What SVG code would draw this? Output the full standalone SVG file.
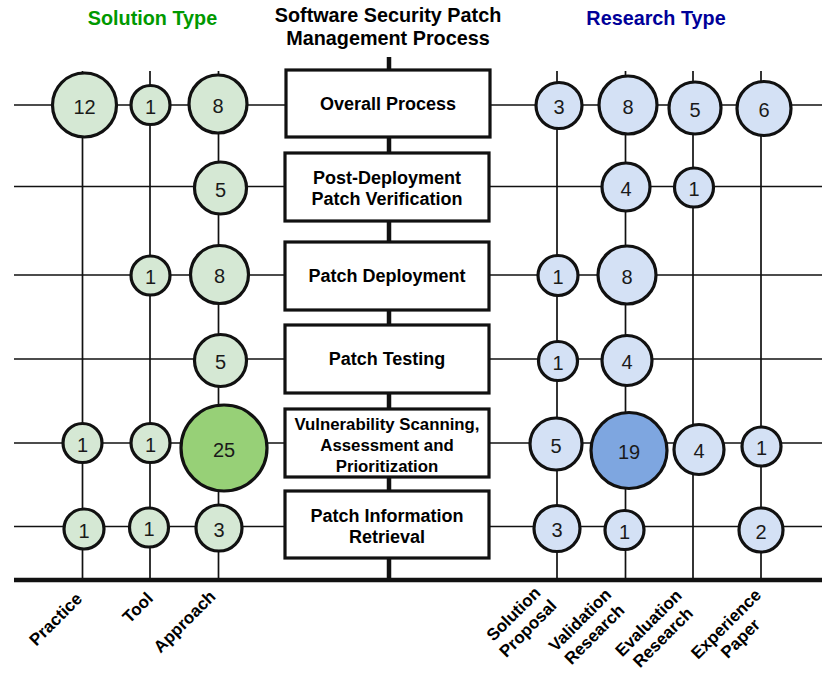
<svg xmlns="http://www.w3.org/2000/svg" width="822" height="676" viewBox="0 0 822 676">
<style>
  .grid{stroke:#111;stroke-width:1.7;fill:none}
  .thick{stroke:#111;stroke-width:4.5;fill:none}
  .box{fill:#fff;stroke:#111;stroke-width:3.2}
  .bl{font-family:"Liberation Sans",Arial,sans-serif;font-weight:bold;font-size:18px;fill:#000;text-anchor:middle}
  .bl2{font-family:"Liberation Sans",Arial,sans-serif;font-weight:bold;font-size:16.8px;fill:#000;text-anchor:middle}
  .g{fill:#d5e8d4;stroke:#111;stroke-width:3.2}
  .gd{fill:#97d077;stroke:#111;stroke-width:3.2}
  .b{fill:#d4e1f5;stroke:#111;stroke-width:3.2}
  .bd{fill:#7ea6e0;stroke:#111;stroke-width:3.2}
  .n{font-family:"Liberation Sans",Arial,sans-serif;font-size:20px;fill:#1a1a1a;text-anchor:middle}
  .title{font-family:"Liberation Sans",Arial,sans-serif;font-weight:bold;font-size:19.8px;text-anchor:middle}
  .lab{font-family:"Liberation Sans",Arial,sans-serif;font-weight:bold;font-size:17px;fill:#000;text-anchor:middle}
</style>

<g id="titles">
  <text class="title" x="152.5" y="25" fill="#009900">Solution Type</text>
  <text class="title" x="388" y="22" fill="#000">Software Security Patch</text>
  <text class="title" x="388" y="44.5" fill="#000">Management Process</text>
  <text class="title" x="656" y="25" fill="#000099">Research Type</text>
</g>

<g id="connectors">
  <line class="grid" x1="14" y1="105" x2="822" y2="105"/>
  <line class="grid" x1="14" y1="186.5" x2="822" y2="186.5"/>
  <line class="grid" x1="14" y1="275" x2="822" y2="275"/>
  <line class="grid" x1="14" y1="359" x2="822" y2="359"/>
  <line class="grid" x1="14" y1="443" x2="822" y2="443"/>
  <line class="grid" x1="14" y1="526.5" x2="822" y2="526.5"/>
  <line class="grid" x1="82.5" y1="71" x2="82.5" y2="578"/>
  <line class="grid" x1="150" y1="71" x2="150" y2="578"/>
  <line class="grid" x1="218.5" y1="71" x2="218.5" y2="578"/>
  <line class="grid" x1="557" y1="71" x2="557" y2="578"/>
  <line class="grid" x1="625.5" y1="71" x2="625.5" y2="578"/>
  <line class="grid" x1="693" y1="71" x2="693" y2="578"/>
  <line class="grid" x1="761" y1="71" x2="761" y2="578"/>
  <line class="thick" x1="389" y1="57" x2="389" y2="578"/>
  <line class="thick" x1="14" y1="580" x2="822" y2="580"/>
</g>

<g id="box-overall"><rect class="box" x="286" y="70" width="204" height="67"/><text class="bl" x="388" y="110">Overall Process</text></g>
<g id="box-post"><rect class="box" x="285" y="153" width="204" height="68"/><text class="bl" x="387" y="184">Post-Deployment</text><text class="bl" x="387" y="205">Patch Verification</text></g>
<g id="box-deploy"><rect class="box" x="285" y="242" width="204" height="68"/><text class="bl" x="387" y="282">Patch Deployment</text></g>
<g id="box-testing"><rect class="box" x="285" y="325" width="204" height="68"/><text class="bl" x="387" y="365">Patch Testing</text></g>
<g id="box-vuln"><rect class="box" x="285" y="409" width="204" height="68"/><text class="bl2" x="387" y="430">Vulnerability Scanning,</text><text class="bl2" x="387" y="451">Assessment and</text><text class="bl2" x="387" y="471.5">Prioritization</text></g>
<g id="box-retrieval"><rect class="box" x="285" y="491" width="204" height="67"/><text class="bl" x="387" y="522">Patch Information</text><text class="bl" x="387" y="543">Retrieval</text></g>

<g id="s-r1-practice"><circle class="g" cx="84.5" cy="105" r="32"/><text class="n" x="84.5" y="113.5">12</text></g>
<g id="s-r1-tool"><circle class="g" cx="150.5" cy="105" r="19.5"/><text class="n" x="150.5" y="113.5">1</text></g>
<g id="s-r1-approach"><circle class="g" cx="218" cy="104" r="29"/><text class="n" x="218" y="112.5">8</text></g>
<g id="s-r2-approach"><circle class="g" cx="220.5" cy="188" r="26"/><text class="n" x="220.5" y="196.5">5</text></g>
<g id="s-r3-tool"><circle class="g" cx="150.5" cy="275.5" r="19.5"/><text class="n" x="150.5" y="284">1</text></g>
<g id="s-r3-approach"><circle class="g" cx="219.5" cy="274.5" r="29"/><text class="n" x="219.5" y="283">8</text></g>
<g id="s-r4-approach"><circle class="g" cx="220.5" cy="360.5" r="26"/><text class="n" x="220.5" y="369">5</text></g>
<g id="s-r5-practice"><circle class="g" cx="82.5" cy="443" r="19.5"/><text class="n" x="82.5" y="451.5">1</text></g>
<g id="s-r5-tool"><circle class="g" cx="150.5" cy="443" r="19.5"/><text class="n" x="150.5" y="451.5">1</text></g>
<g id="s-r5-approach"><circle class="gd" cx="224" cy="448" r="43"/><text class="n" x="224" y="456.5">25</text></g>
<g id="s-r6-practice"><circle class="g" cx="84" cy="529" r="20"/><text class="n" x="84" y="537.5">1</text></g>
<g id="s-r6-tool"><circle class="g" cx="149" cy="527.5" r="19.5"/><text class="n" x="149" y="536">1</text></g>
<g id="s-r6-approach"><circle class="g" cx="219" cy="528" r="23"/><text class="n" x="219" y="536.5">3</text></g>

<g id="r-r1-solution"><circle class="b" cx="559" cy="105.5" r="23"/><text class="n" x="559" y="114">3</text></g>
<g id="r-r1-validation"><circle class="b" cx="628" cy="105" r="29"/><text class="n" x="628" y="113.5">8</text></g>
<g id="r-r1-evaluation"><circle class="b" cx="695" cy="108" r="26"/><text class="n" x="695" y="116.5">5</text></g>
<g id="r-r1-experience"><circle class="b" cx="764" cy="108.5" r="27"/><text class="n" x="764" y="117">6</text></g>
<g id="r-r2-validation"><circle class="b" cx="626" cy="187" r="24"/><text class="n" x="626" y="195.5">4</text></g>
<g id="r-r2-evaluation"><circle class="b" cx="694" cy="187.5" r="19.5"/><text class="n" x="694" y="196">1</text></g>
<g id="r-r3-solution"><circle class="b" cx="558" cy="275.5" r="20"/><text class="n" x="558" y="284">1</text></g>
<g id="r-r3-validation"><circle class="b" cx="627" cy="275" r="29"/><text class="n" x="627" y="283.5">8</text></g>
<g id="r-r4-solution"><circle class="b" cx="558" cy="361" r="19.5"/><text class="n" x="558" y="369.5">1</text></g>
<g id="r-r4-validation"><circle class="b" cx="627" cy="360.5" r="25"/><text class="n" x="627" y="369">4</text></g>
<g id="r-r5-solution"><circle class="b" cx="556" cy="444" r="26"/><text class="n" x="556" y="452.5">5</text></g>
<g id="r-r5-validation"><circle class="bd" cx="629" cy="450.5" r="38"/><text class="n" x="629" y="459">19</text></g>
<g id="r-r5-evaluation"><circle class="b" cx="699" cy="449.5" r="25"/><text class="n" x="699" y="458">4</text></g>
<g id="r-r5-experience"><circle class="b" cx="761.5" cy="446.5" r="19.5"/><text class="n" x="761.5" y="455">1</text></g>
<g id="r-r6-solution"><circle class="b" cx="557" cy="528.5" r="23"/><text class="n" x="557" y="537">3</text></g>
<g id="r-r6-validation"><circle class="b" cx="624.5" cy="530" r="19.5"/><text class="n" x="624.5" y="538.5">1</text></g>
<g id="r-r6-experience"><circle class="b" cx="761" cy="530" r="22"/><text class="n" x="761" y="538.5">2</text></g>

<g id="axis-labels">
  <text class="lab" transform="translate(55.5,619) rotate(-45)" y="6">Practice</text>
  <text class="lab" transform="translate(137.5,607.5) rotate(-45)" y="6">Tool</text>
  <text class="lab" transform="translate(186.5,623.5) rotate(-45)" y="3">Approach</text>
  <text class="lab" transform="translate(520.5,621) rotate(-45)"><tspan x="0" y="-4.2">Solution</tspan><tspan x="0" y="16.2">Proposal</tspan></text>
  <text class="lab" transform="translate(587,627) rotate(-45)"><tspan x="0" y="-4.2">Validation</tspan><tspan x="0" y="16.2">Research</tspan></text>
  <text class="lab" transform="translate(655.5,630) rotate(-45)"><tspan x="0" y="-4.2">Evaluation</tspan><tspan x="0" y="16.2">Research</tspan></text>
  <text class="lab" transform="translate(733,631) rotate(-45)"><tspan x="0" y="-4.2">Experience</tspan><tspan x="0" y="16.2">Paper</tspan></text>
</g>
</svg>
